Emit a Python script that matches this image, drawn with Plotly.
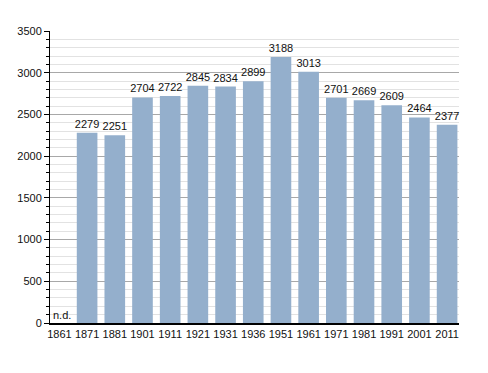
import plotly.graph_objects as go

years = ["1861", "1871", "1881", "1901", "1911", "1921", "1931", "1936",
         "1951", "1961", "1971", "1981", "1991", "2001", "2011"]
population = [None, 2279, 2251, 2704, 2722, 2845, 2834, 2899,
              3188, 3013, 2701, 2669, 2609, 2464, 2377]
labels = ["" if v is None else str(v) for v in population]

FONT = "Liberation Sans, Arial"

fig = go.Figure()
fig.add_trace(go.Bar(
    x=years, y=population, text=labels, textposition="outside",
    textfont=dict(size=11, color="#111111", family=FONT),
    marker=dict(color="#94afcc", line=dict(width=0)),
    width=0.745, cliponaxis=False,
))
# "n.d." marker for the first (missing) category, index 0 on the category axis
fig.add_annotation(x=0, y=0, text="n.d.", showarrow=False,
                   xanchor="left", yanchor="bottom", xshift=-8, yshift=0,
                   font=dict(size=11, color="#111111", family=FONT))

fig.update_layout(
    width=488, height=373,
    margin=dict(l=42, r=37, t=23, b=58),
    paper_bgcolor="white", plot_bgcolor="white",
    showlegend=False,
    font=dict(family=FONT, size=11, color="#111111"),
    uniformtext=dict(minsize=11, mode="show"),
)
fig.update_xaxes(
    type="category", range=[-0.34, len(years) - 0.57], automargin=False,
    showline=True, linecolor="black", linewidth=1.5,
    ticks="", showgrid=False, tickfont=dict(size=11),
)
fig.update_yaxes(
    range=[0, 3500], dtick=500, automargin=False,
    showline=True, linecolor="black", linewidth=1,
    ticks="outside", ticklen=5, tickcolor="black",
    showgrid=True, gridcolor="#a8a8a8", gridwidth=1,
    zeroline=False, tickfont=dict(size=11),
    minor=dict(dtick=100, showgrid=True, gridcolor="#e2e2e2",
               ticks="outside", ticklen=3, tickcolor="black"),
)

fig.write_html("out.html")
